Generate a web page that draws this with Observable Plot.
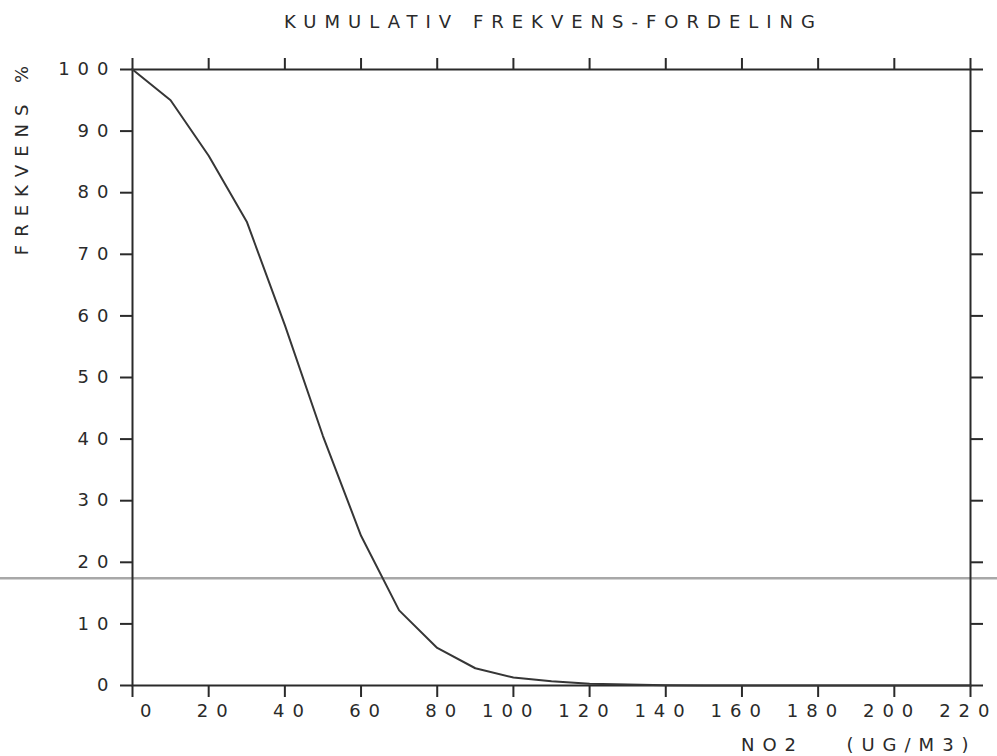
<!DOCTYPE html>
<html><head><meta charset="utf-8">
<script src="https://cdn.jsdelivr.net/npm/d3@7"></script>
<script src="https://cdn.jsdelivr.net/npm/@observablehq/plot@0.6"></script>
<style>
html,body{margin:0;padding:0;background:#fff;}
#chart svg{display:block;}
</style></head><body><div id="chart"></div>
<script>
// ---- data ----
const title = "KUMULATIV FREKVENS-FORDELING";
const yLabel = "FREKVENS %";
const xLabelName = "NO2";
const xLabelUnit = "(UG/M3)";
const no2  = [0, 10, 20, 30, 40, 50, 60, 70, 80, 90, 100, 110, 120, 130, 140, 150, 160, 180, 200, 220];
const freq = [100, 95, 86, 75.3, 58.5, 40.5, 24.3, 12.2, 6.1, 2.8, 1.3, 0.7, 0.3, 0.15, 0.05, 0, 0, 0, 0, 0];
const xTicks = [0, 20, 40, 60, 80, 100, 120, 140, 160, 180, 200, 220];
const yTicks = [0, 10, 20, 30, 40, 50, 60, 70, 80, 90, 100];
const scanLine = [17.4];

const data = no2.map((x, i) => ({x, y: freq[i]}));
const ink = "#2a2a2a";
const fs = 18;
const ls = 8;

const chart = Plot.plot({
  width: 997, height: 756,
  marginLeft: 132, marginRight: 27, marginTop: 69, marginBottom: 71,
  x: {domain: [0, 220]},
  y: {domain: [0, 100]},
  style: {fontFamily: "DejaVu Sans", fontSize: fs + "px", color: ink, background: "#fff", letterSpacing: ls + "px"},
  marks: [
    Plot.ruleY(scanLine, {x1: -35, x2: 228, stroke: "#a8a8a8", strokeWidth: 2.5}),
    Plot.frame({stroke: ink, strokeWidth: 2}),
    Plot.axisX(xTicks, {anchor: "bottom", tickSize: 12, strokeWidth: 2, tickFormat: () => "", label: null}),
    Plot.axisX(xTicks, {anchor: "top", tickSize: 12, strokeWidth: 2, tickFormat: () => "", label: null}),
    Plot.axisY(yTicks, {anchor: "left", tickSize: 12, strokeWidth: 2, tickFormat: () => "", label: null}),
    Plot.axisY(yTicks, {anchor: "right", tickSize: 12, strokeWidth: 2, tickFormat: () => "", label: null}),
    Plot.text(yTicks, {y: d => d, text: d => String(d), frameAnchor: "left", textAnchor: "end", lineAnchor: "middle",
      dx: -24 + ls, fontSize: fs, fill: ink}),
    Plot.text(xTicks, {x: d => d, text: d => String(d), frameAnchor: "bottom", textAnchor: "end", lineAnchor: "middle",
      dy: 26, dx: 19 + ls, fontSize: fs, fill: ink}),
    Plot.line(data, {x: "x", y: "y", stroke: "#363636", strokeWidth: 2}),
    Plot.text([title], {text: d => d, frameAnchor: "top", textAnchor: "middle", lineAnchor: "middle",
      dy: -47, dx: -2 + ls / 2, fontSize: fs, fill: ink}),
    Plot.text([yLabel], {text: d => d, frameAnchor: "top-left", textAnchor: "middle", lineAnchor: "middle",
      rotate: -90, dx: -110, dy: 91 - ls / 2, fontSize: fs, fill: ink}),
    Plot.text([xLabelName], {text: d => d, frameAnchor: "bottom-left", textAnchor: "middle", lineAnchor: "middle",
      dx: 636 + ls / 2, dy: 60, fontSize: fs, fill: ink}),
    Plot.text([xLabelUnit], {text: d => d, frameAnchor: "bottom-left", textAnchor: "middle", lineAnchor: "middle",
      dx: 775 + ls / 2, dy: 60, fontSize: fs, fill: ink})
  ]
});
document.getElementById("chart").append(chart);
</script>
</body></html>
